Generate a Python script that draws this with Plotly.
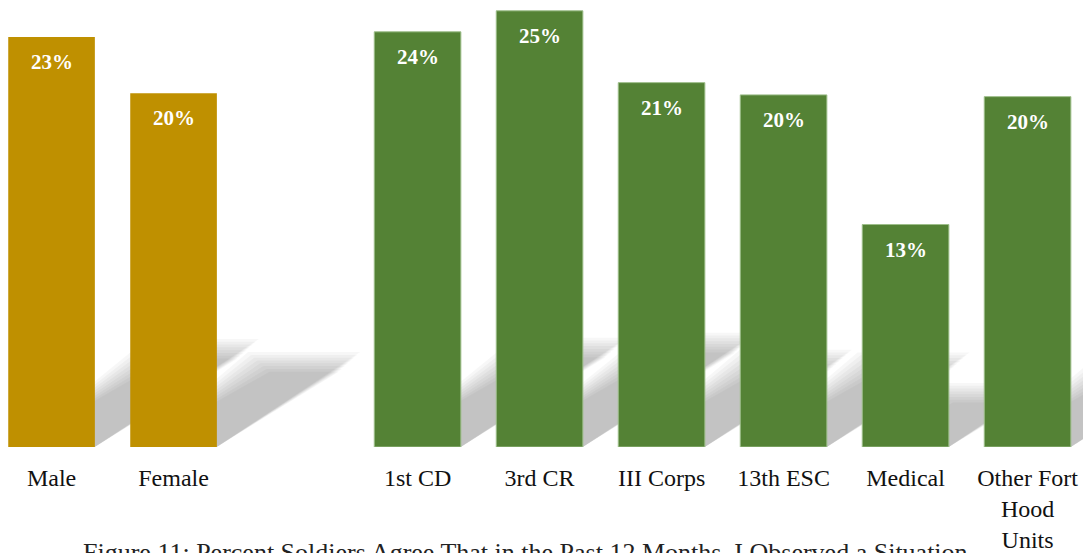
import plotly.graph_objects as go

gender_labels = ["Male", "Female"]
gender_values = [23.4, 20.2]
gender_text = ["23%", "20%"]

unit_labels = ["1st CD", "3rd CR", "III Corps", "13th ESC", "Medical", "Other Fort<br>Hood<br>Units"]
unit_values = [23.7, 24.9, 20.8, 20.1, 12.7, 20.0]
unit_text = ["24%", "25%", "21%", "20%", "13%", "20%"]

gap_label = " "
categories = gender_labels + [gap_label] + unit_labels

caption = "Figure 11: Percent Soldiers Agree That in the Past 12 Months, I Observed a Situation"

GOLD = "#BF9000"
GREEN = "#548235"
FONT = "Liberation Serif"
BAR_W = 0.71

fig = go.Figure()

# decorative soft shadows behind bars (blur faked with stacked translucent layers)
shapes = []
all_labels = gender_labels + unit_labels
all_values = gender_values + unit_values
N = 8
for lab, val in zip(all_labels, all_values):
    i = categories.index(lab)
    x0, x1 = i - BAR_W / 2, i + BAR_W / 2
    dy = 0.235 * val
    dx = 0.053 * val
    for k in range(N):
        e = 0.025 * (N - 1 - k) - 0.07
        ey = 0.16 * (N - 1 - k) - 0.45
        path = (f"M {x0 + 0.05},0 L {x1},0 L {x1 + dx + e},{dy + ey} "
                f"L {x0 + dx - e},{dy + ey} Z")
        shapes.append(dict(type="path", path=path, xref="x", yref="y",
                           fillcolor="rgba(0,0,0,0.032)", line=dict(width=0),
                           layer="below"))

fig.add_trace(go.Bar(x=[gap_label], y=[0], marker=dict(color="rgba(0,0,0,0)", line=dict(width=0)),
                     hoverinfo="skip", showlegend=False))
fig.add_trace(go.Bar(x=gender_labels, y=gender_values, width=BAR_W,
                     marker=dict(color=GOLD, line=dict(width=0)), showlegend=False))
fig.add_trace(go.Bar(x=unit_labels, y=unit_values, width=BAR_W,
                     marker=dict(color=GREEN, line=dict(color="#9DBE8A", width=1)), showlegend=False))

annotations = []
for lab, val, t in zip(all_labels, all_values, gender_text + unit_text):
    annotations.append(dict(x=lab, y=val, xref="x", yref="y", text=f"<b>{t}</b>",
                            showarrow=False, yshift=-25, yanchor="middle",
                            font=dict(family=FONT, size=21, color="white")))
annotations.append(dict(x=517 / 1083, y=-0.202, xref="paper", yref="paper", text=caption,
                        showarrow=False, xanchor="center", yanchor="top",
                        font=dict(family=FONT, size=26, color="#222222")))

fig.update_layout(
    width=1083, height=545,
    margin=dict(l=0, r=0, t=0, b=104),
    paper_bgcolor="white", plot_bgcolor="white",
    barmode="overlay",
    shapes=shapes,
    annotations=annotations,
    xaxis=dict(type="category", categoryorder="array", categoryarray=categories,
               range=[-0.357, 8.52], showgrid=False, zeroline=False, showline=False,
               ticks="", ticklabelstandoff=14,
               tickfont=dict(family=FONT, size=24, color="#111111")),
    yaxis=dict(range=[0, 25.06], visible=False, showgrid=False, zeroline=False),
    font=dict(family=FONT),
)

fig.write_html("out.html")
